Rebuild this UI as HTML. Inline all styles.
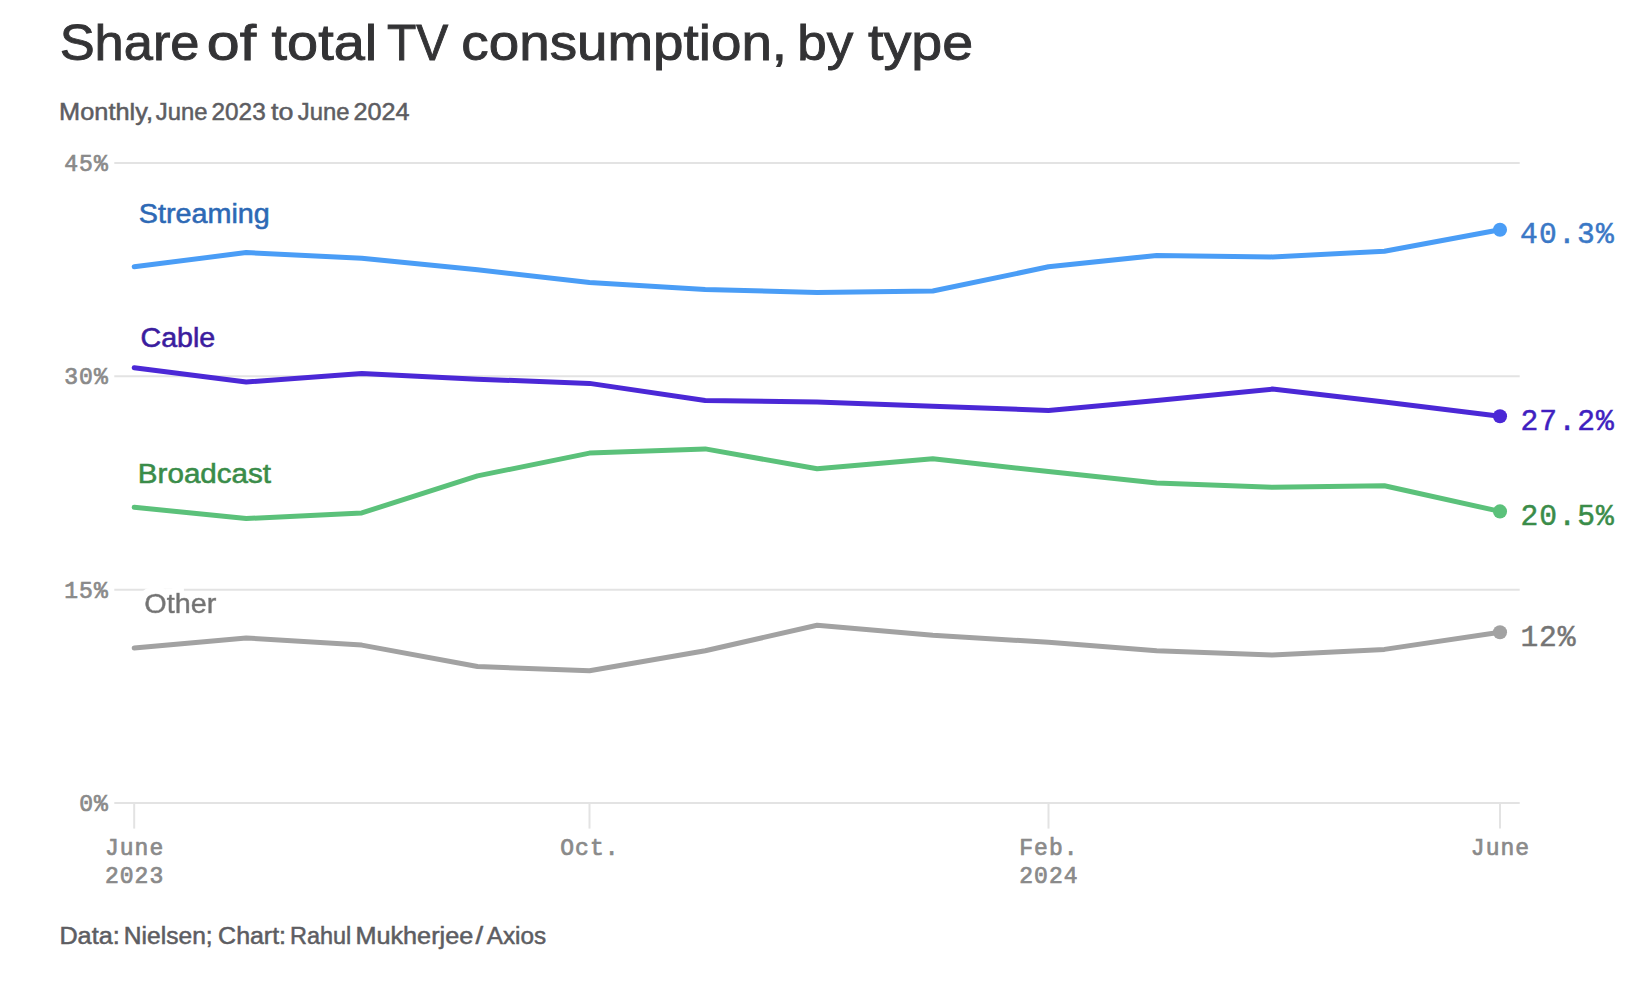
<!DOCTYPE html>
<html lang="en"><head><meta charset="utf-8"><title>Share of total TV consumption, by type</title>
<style>
html,body{margin:0;padding:0;background:#fff;}
body{width:1646px;height:982px;overflow:hidden;}
svg{display:block;}
.sans{font-family:"Liberation Sans", Arial, sans-serif;}
.mono{font-family:"Liberation Mono", "DejaVu Sans Mono", monospace;}
.title{stroke:#333335;stroke-width:.9;}
.sub{stroke:#5d5d62;stroke-width:.5;}
.tick{fill:#8a8a8a;font-size:23px;stroke:#8a8a8a;stroke-width:.7;}
.grid{stroke:#e3e3e3;stroke-width:2;}
.ln{fill:none;stroke-width:5;stroke-linejoin:round;stroke-linecap:round;}
.lab{font-size:26.8px;stroke-width:.55;}
.end{font-size:29.6px;}
</style></head><body>
<svg width="1646" height="982" viewBox="0 0 1646 982">
<defs><filter id="halo" x="-10%" y="-40%" width="120%" height="180%"><feMorphology in="SourceAlpha" operator="dilate" radius="4 6" result="d"/><feGaussianBlur in="d" stdDeviation="0.6" result="db"/><feFlood flood-color="#ffffff" result="w"/><feComposite in="w" in2="db" operator="in" result="h"/><feMerge><feMergeNode in="h"/><feMergeNode in="h"/><feMergeNode in="SourceGraphic"/></feMerge></filter></defs>
<rect width="1646" height="982" fill="#ffffff"/>

<text class="sans title" y="60.4" font-size="50.6" fill="#333335" ><tspan x="59.66" textLength="139.86" lengthAdjust="spacingAndGlyphs">Share</tspan> <tspan x="206.75" textLength="49.35" lengthAdjust="spacingAndGlyphs">of</tspan> <tspan x="271.50" textLength="105.69" lengthAdjust="spacingAndGlyphs">total</tspan> <tspan x="387.05" textLength="61.32" lengthAdjust="spacingAndGlyphs">TV</tspan> <tspan x="461.39" textLength="325.70" lengthAdjust="spacingAndGlyphs">consumption,</tspan> <tspan x="797.39" textLength="56.01" lengthAdjust="spacingAndGlyphs">by</tspan> <tspan x="868.00" textLength="105.05" lengthAdjust="spacingAndGlyphs">type</tspan></text>
<text class="sans sub" y="120.0" font-size="23.2" fill="#5d5d62" ><tspan x="59.12" textLength="93.87" lengthAdjust="spacingAndGlyphs">Monthly,</tspan> <tspan x="155.83" textLength="51.64" lengthAdjust="spacingAndGlyphs">June</tspan> <tspan x="211.56" textLength="54.13" lengthAdjust="spacingAndGlyphs">2023</tspan> <tspan x="271.10" textLength="22.39" lengthAdjust="spacingAndGlyphs">to</tspan> <tspan x="297.83" textLength="51.64" lengthAdjust="spacingAndGlyphs">June</tspan> <tspan x="353.52" textLength="56.01" lengthAdjust="spacingAndGlyphs">2024</tspan></text>
<line class="grid" x1="114.3" x2="1519.7" y1="163.0" y2="163.0"/>
<text class="mono tick" x="64.28" y="171.0" letter-spacing="1.05">45%</text>
<line class="grid" x1="114.3" x2="1519.7" y1="376.3" y2="376.3"/>
<text class="mono tick" x="64.28" y="384.3" letter-spacing="1.05">30%</text>
<line class="grid" x1="114.3" x2="1519.7" y1="589.7" y2="589.7"/>
<text class="mono tick" x="64.28" y="597.7" letter-spacing="1.05">15%</text>
<line class="grid" x1="114.3" x2="1519.7" y1="803.0" y2="803.0"/>
<text class="mono tick" x="79.13" y="811.0" letter-spacing="1.05">0%</text>
<line class="grid" x1="134.2" x2="134.2" y1="803" y2="828.6"/>
<text class="mono tick" x="104.9" y="854.7" letter-spacing="1.05">June</text>
<text class="mono tick" x="104.9" y="882.8" letter-spacing="1.05">2023</text>
<line class="grid" x1="589.5" x2="589.5" y1="803" y2="828.6"/>
<text class="mono tick" x="560.2" y="854.7" letter-spacing="1.05">Oct.</text>
<line class="grid" x1="1048.5" x2="1048.5" y1="803" y2="828.6"/>
<text class="mono tick" x="1019.2" y="854.7" letter-spacing="1.05">Feb.</text>
<text class="mono tick" x="1019.2" y="882.8" letter-spacing="1.05">2024</text>
<line class="grid" x1="1500.0" x2="1500.0" y1="803" y2="828.6"/>
<text class="mono tick" x="1470.8" y="854.7" letter-spacing="1.05">June</text>
<path class="ln" stroke="#4a9df6" d="M134.2,266.8 L246.2,252.6 L361.8,258.3 L477.5,269.7 L589.5,282.5 L705.2,289.6 L817.1,292.4 L932.8,291.0 L1048.5,266.8 L1156.7,255.4 L1272.4,256.9 L1384.4,251.2 L1500.0,229.8"/>
<path class="ln" stroke="#4b28d6" d="M134.2,367.8 L246.2,382.0 L361.8,373.5 L477.5,379.2 L589.5,383.4 L705.2,400.5 L817.1,401.9 L932.8,406.2 L1048.5,410.5 L1156.7,400.5 L1272.4,389.1 L1384.4,401.9 L1500.0,416.2"/>
<path class="ln" stroke="#5bc17a" d="M134.2,507.2 L246.2,518.6 L361.8,512.9 L477.5,475.9 L589.5,453.1 L705.2,448.9 L817.1,468.8 L932.8,458.8 L1048.5,471.6 L1156.7,483.0 L1272.4,487.3 L1384.4,485.8 L1500.0,511.4"/>
<path class="ln" stroke="#a2a2a2" d="M134.2,648.0 L246.2,638.0 L361.8,645.1 L477.5,666.5 L589.5,670.7 L705.2,650.8 L817.1,625.2 L932.8,635.2 L1048.5,642.3 L1156.7,650.8 L1272.4,655.1 L1384.4,649.4 L1500.0,632.3"/>
<circle cx="1500.0" cy="229.8" r="7.05" fill="#4a9df6"/>
<text class="sans lab" x="138.80" y="222.7" fill="#2d69b5" stroke="#2d69b5" textLength="131.01" lengthAdjust="spacingAndGlyphs">Streaming</text>
<text class="mono end" x="1519.91" y="243.3" fill="#3a78c6" stroke="#3a78c6" stroke-width=".5" letter-spacing="1.27">40.3%</text>
<circle cx="1500.0" cy="416.2" r="7.05" fill="#4b28d6"/>
<text class="sans lab" x="140.56" y="346.7" fill="#3b1d9e" stroke="#3b1d9e" textLength="74.70" lengthAdjust="spacingAndGlyphs">Cable</text>
<text class="mono end" x="1520.45" y="429.6" fill="#401fc0" stroke="#401fc0" stroke-width=".5" letter-spacing="1.14">27.2%</text>
<circle cx="1500.0" cy="511.4" r="7.05" fill="#5bc17a"/>
<text class="sans lab" x="137.89" y="482.7" fill="#3a8c49" stroke="#3a8c49" textLength="133.21" lengthAdjust="spacingAndGlyphs">Broadcast</text>
<text class="mono end" x="1520.45" y="524.9" fill="#3a8c49" stroke="#3a8c49" stroke-width=".5" letter-spacing="1.14">20.5%</text>
<circle cx="1500.0" cy="632.3" r="7.05" fill="#a2a2a2"/>
<text class="sans lab" filter="url(#halo)" x="144.35" y="612.7" fill="#737373" stroke="#737373" textLength="71.99" lengthAdjust="spacingAndGlyphs">Other</text>
<text class="mono end" x="1520.45" y="645.8" fill="#757575" stroke="#757575" stroke-width=".5" letter-spacing="0.89">12%</text>
<text class="sans sub" y="944.0" font-size="23" fill="#5d5d62" ><tspan x="59.43" textLength="60.25" lengthAdjust="spacingAndGlyphs">Data:</tspan> <tspan x="123.88" textLength="88.75" lengthAdjust="spacingAndGlyphs">Nielsen;</tspan> <tspan x="218.13" textLength="67.92" lengthAdjust="spacingAndGlyphs">Chart:</tspan> <tspan x="290.07" textLength="61.17" lengthAdjust="spacingAndGlyphs">Rahul</tspan> <tspan x="355.43" textLength="117.79" lengthAdjust="spacingAndGlyphs">Mukherjee</tspan><tspan x="475.60" textLength="7.61" lengthAdjust="spacingAndGlyphs">/</tspan><tspan x="486.70" textLength="59.36" lengthAdjust="spacingAndGlyphs">Axios</tspan></text>
</svg></body></html>
